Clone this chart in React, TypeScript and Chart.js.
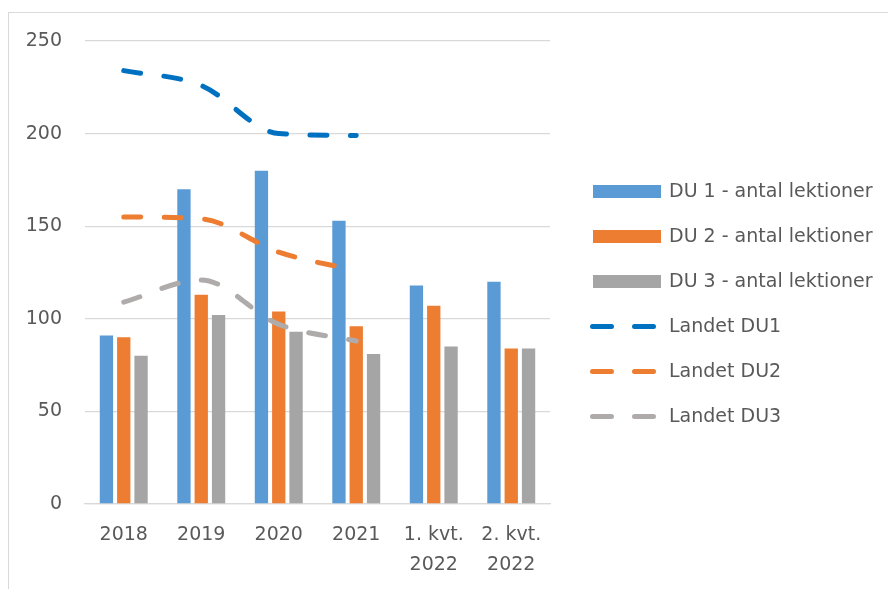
import React, { useEffect, useRef } from "react";
import { Chart, registerables } from "chart.js";

Chart.register(...registerables);

const categories: (string | string[])[] = ["2018", "2019", "2020", "2021", ["1. kvt.", "2022"], ["2. kvt.", "2022"]];
const du1Lektioner = [91, 170, 180, 153, 118, 120];
const du2Lektioner = [90, 113, 104, 96, 107, 84];
const du3Lektioner = [80, 102, 93, 81, 85, 84];
const landetDU1 = [234, 226, 200, 199, null, null];
const landetDU2 = [155, 154, 136, 126, null, null];
const landetDU3 = [109, 121, 97, 88, null, null];
const yTicks = [0, 50, 100, 150, 200, 250];

const FONT = "'DejaVu Sans', sans-serif";
const TEXT = "#595959";

const customLegend = {
  id: "customLegend",
  afterDraw(chart: any) {
    const ctx = chart.ctx;
    const ds = chart.data.datasets;
    const x0 = chart.chartArea.right + 43;
    const step = 45;
    const yStart = chart.height / 2 + 3 - (step * (ds.length - 1)) / 2;
    ctx.save();
    ctx.font = `19px ${FONT}`;
    ctx.textBaseline = "middle";
    ctx.textAlign = "left";
    ds.forEach((d: any, i: number) => {
      const cy = yStart + i * step;
      if (d.type === "line") {
        ctx.save();
        ctx.strokeStyle = d.borderColor;
        ctx.lineWidth = 5;
        ctx.lineCap = "round";
        ctx.setLineDash([19, 23]);
        ctx.beginPath();
        ctx.moveTo(x0 - 0.5, cy);
        ctx.lineTo(x0 + 68, cy);
        ctx.stroke();
        ctx.restore();
      } else {
        ctx.fillStyle = d.backgroundColor;
        ctx.fillRect(x0, cy - 6.5, 68, 13);
      }
      ctx.fillStyle = TEXT;
      ctx.fillText(d.label, x0 + 76, cy + 1);
    });
    ctx.restore();
  },
};

export default function App() {
  const ref = useRef<HTMLCanvasElement>(null);
  useEffect(() => {
    if (!ref.current) return;
    const lineCommon = { borderWidth: 5, borderDash: [17, 23.5], borderCapStyle: "round", pointRadius: 0, cubicInterpolationMode: "monotone", order: 0 };
    const chart = new Chart(ref.current, {
      type: "bar",
      data: {
        labels: categories,
        datasets: [
          { type: "bar", label: "DU 1 - antal lektioner", data: du1Lektioner, backgroundColor: "#5b9bd5", order: 1 },
          { type: "bar", label: "DU 2 - antal lektioner", data: du2Lektioner, backgroundColor: "#ed7d31", order: 1 },
          { type: "bar", label: "DU 3 - antal lektioner", data: du3Lektioner, backgroundColor: "#a5a5a5", order: 1 },
          { type: "line", label: "Landet DU1", data: landetDU1, borderColor: "#0070c0", backgroundColor: "#0070c0", ...lineCommon },
          { type: "line", label: "Landet DU2", data: landetDU2, borderColor: "#ed7d31", backgroundColor: "#ed7d31", ...lineCommon },
          { type: "line", label: "Landet DU3", data: landetDU3, borderColor: "#afabab", backgroundColor: "#afabab", ...lineCommon },
        ] as any,
      },
      options: {
        responsive: false,
        animation: false,
        events: [],
        datasets: { bar: { barPercentage: 0.77, categoryPercentage: 0.67 } },
        layout: { padding: { top: 28, right: 338, bottom: 9, left: 0 } },
        plugins: { legend: { display: false }, tooltip: { enabled: false } },
        scales: {
          x: {
            afterFit: (s: any) => { s.height = 76; },
            grid: { display: false, drawTicks: false },
            border: { display: true, color: "#d9d9d9", width: 1.3 },
            ticks: { color: TEXT, padding: 16, maxRotation: 0, autoSkip: false, font: { family: FONT, size: 19, lineHeight: "30px" } },
          },
          y: {
            min: 0,
            max: 250,
            afterBuildTicks: (s: any) => { s.ticks = yTicks.map((v) => ({ value: v })); },
            afterFit: (s: any) => { s.width = 76; s.paddingTop = 0; s.paddingBottom = 0; },
            grid: { color: "#d9d9d9", lineWidth: 1.3, drawTicks: false },
            border: { display: false },
            ticks: { color: TEXT, padding: 23, font: { family: FONT, size: 19, lineHeight: "30px" } },
          },
        },
      },
      plugins: [customLegend],
    });
    return () => chart.destroy();
  }, []);
  return (
    <div style={{ position: "fixed", left: 8, top: 12, width: 900, height: 600, borderLeft: "1px solid #d9d9d9", borderTop: "1px solid #d9d9d9", background: "#fff" }}>
      <canvas ref={ref} width={879} height={576} style={{ width: 879, height: 576, display: "block" }} />
    </div>
  );
}
